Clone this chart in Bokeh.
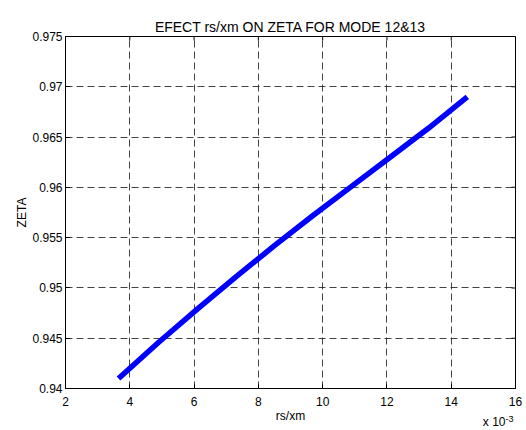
from bokeh.plotting import figure
from bokeh.models import Range1d, FixedTicker, Title
from bokeh.embed import file_html
from bokeh.resources import INLINE

# data (x in units of 1e-3)
rs_xm = [3.65, 4.9, 6.1, 7.3, 8.5, 9.7, 10.9, 12.1, 13.3, 14.5]
zeta = [0.9410, 0.9446, 0.9479, 0.9511, 0.9542, 0.9572, 0.9601, 0.9630, 0.9659, 0.9690]
x_ticks = [2, 4, 6, 8, 10, 12, 14, 16]
y_ticks = [0.94, 0.945, 0.95, 0.955, 0.96, 0.965, 0.97, 0.975]
y_tick_labels = {0.94: "0.94", 0.945: "0.945", 0.95: "0.95", 0.955: "0.955",
                 0.96: "0.96", 0.965: "0.965", 0.97: "0.97", 0.975: "0.975"}

FONT = "Liberation Sans"
FS = "12px"

p = figure(frame_width=450, frame_height=352, output_backend="svg", toolbar_location=None,
           x_range=Range1d(x_ticks[0], x_ticks[-1]), y_range=Range1d(y_ticks[0], y_ticks[-1]),
           min_border_left=65, min_border_right=9, min_border_top=36, min_border_bottom=40)

p.title.text = "EFECT rs/xm ON ZETA FOR MODE 12&13"
p.title.align = "center"
p.title.text_font = FONT
p.title.text_font_size = "14px"
p.title.text_font_style = "normal"
p.title.text_color = "black"
p.title.offset = -4
p.title.standoff = 3

p.outline_line_color = "black"
p.outline_line_width = 1
p.background_fill_color = "white"
p.border_fill_color = "white"

for ax in (p.xaxis[0], p.yaxis[0]):
    ax.major_tick_in = 4
    ax.major_tick_out = 0
    ax.minor_tick_line_color = None
    ax.axis_line_color = "black"
    ax.major_tick_line_color = "black"
    ax.major_label_text_font = FONT
    ax.major_label_text_font_size = FS
    ax.major_label_text_color = "black"
    ax.axis_label_text_font = FONT
    ax.axis_label_text_font_size = FS
    ax.axis_label_text_font_style = "normal"
    ax.axis_label_text_color = "black"

xa = p.xaxis[0]
xa.ticker = FixedTicker(ticks=x_ticks)
xa.axis_label = "rs/xm"
xa.major_label_standoff = 8
xa.axis_label_standoff = 0

ya = p.yaxis[0]
ya.ticker = FixedTicker(ticks=y_ticks)
ya.major_label_overrides = y_tick_labels
ya.axis_label = "ZETA"
ya.major_label_standoff = 3
ya.axis_label_standoff = 0

p.xgrid.ticker = FixedTicker(ticks=x_ticks)
p.ygrid.ticker = FixedTicker(ticks=y_ticks)
for g in (p.xgrid[0], p.ygrid[0]):
    g.grid_line_color = "#222222"
    g.grid_line_dash = "7 4"
    g.grid_line_width = 1
    g.grid_line_alpha = 0.85

# inward ticks on the top and right edges (half of each rect is clipped by the frame)
p.rect(x=x_ticks, y=[y_ticks[-1]] * len(x_ticks), width=1, height=8,
       width_units="screen", height_units="screen", fill_color="black", line_color=None)
p.rect(x=[x_ticks[-1]] * len(y_ticks), y=y_ticks, width=8, height=1,
       width_units="screen", height_units="screen", fill_color="black", line_color=None)

p.line(rs_xm, zeta, line_color="#0000FF", line_width=5.5)

# axis multiplier "x 10^-3" drawn as two zero-height titles below the x axis
mult = Title(text="x 10", align="right", vertical_align="top", offset=10, standoff=-22,
             text_font=FONT, text_font_size=FS, text_font_style="normal", text_color="black")
expo = Title(text="-3", align="right", vertical_align="top", offset=2, standoff=-20,
             text_font=FONT, text_font_size="9px", text_font_style="normal", text_color="black")
p.add_layout(mult, "below")
p.add_layout(expo, "below")

open("out.html", "w").write(file_html(p, INLINE))
